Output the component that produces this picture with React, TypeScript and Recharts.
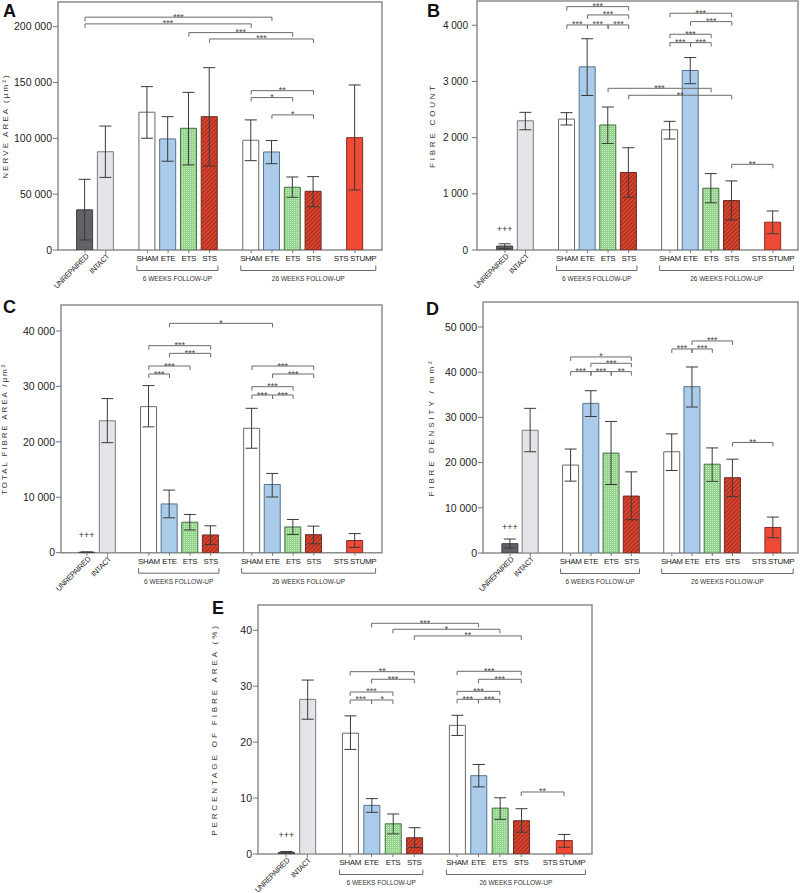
import React from 'react'
import {
  BarChart,
  Bar,
  XAxis,
  YAxis,
  ErrorBar,
  Cell,
  ReferenceLine,
  ReferenceArea,
  LabelList,
  Label,
} from 'recharts'

const FONT = "'Liberation Sans', Arial, Helvetica, sans-serif"

// x slots, gaps included so groups are spaced like the figure
const slots = ['UNREPAIRED', 'INTACT', 'gap1', 'SHAM6', 'ETE6', 'ETS6', 'STS6', 'gap2', 'SHAM26', 'ETE26', 'ETS26', 'STS26', 'gap3', 'STUMP']
const groups = ['UNREPAIRED', 'INTACT', 'SHAM6', 'ETE6', 'ETS6', 'STS6', 'SHAM26', 'ETE26', 'ETS26', 'STS26', 'STUMP']
const tickText: Record<string, string> = {
  UNREPAIRED: 'UNREPAIRED', INTACT: 'INTACT',
  SHAM6: 'SHAM', ETE6: 'ETE', ETS6: 'ETS', STS6: 'STS',
  SHAM26: 'SHAM', ETE26: 'ETE', ETS26: 'ETS', STS26: 'STS',
  STUMP: 'STS STUMP',
}
const groupKind: Record<string, string> = {
  UNREPAIRED: 'unrepaired', INTACT: 'intact',
  SHAM6: 'sham', ETE6: 'ete', ETS6: 'ets', STS6: 'sts',
  SHAM26: 'sham', ETE26: 'ete', ETS26: 'ets', STS26: 'sts',
  STUMP: 'stump',
}
const followUps: [string, string, string][] = [
  ['SHAM6', 'STS6', '6 WEEKS FOLLOW-UP'],
  ['SHAM26', 'STUMP', '26 WEEKS FOLLOW-UP'],
]

// A - nerve area
const nerveMean = [36000, 88000, 123400, 99500, 109000, 119400, 98300, 87800, 56200, 52600, 100600]
const nerveHigh = [63300, 111000, 146300, 119400, 141200, 163300, 116500, 98000, 65400, 65700, 147800]
const nerveLow = [9000, 65000, 100100, 79500, 76200, 75300, 80000, 77300, 47200, 38800, 53800]
const nerveTicks = [0, 50000, 100000, 150000, 200000]
const nerveSig: [string, string, number, string][] = [
  ['UNREPAIRED', 'ETE26', 208500, '***'],
  ['UNREPAIRED', 'SHAM26', 202500, '***'],
  ['ETS6', 'ETS26', 194700, '***'],
  ['STS6', 'STS26', 189000, '***'],
  ['SHAM26', 'STS26', 142700, '**'],
  ['SHAM26', 'ETS26', 136500, '*'],
  ['ETE26', 'STS26', 121000, '*'],
]

// B - fibre count
const countMean = [70, 2300, 2330, 3260, 2225, 1380, 2140, 3195, 1100, 880, 495]
const countHigh = [110, 2450, 2445, 3760, 2545, 1820, 2290, 3425, 1360, 1230, 695]
const countLow = [25, 2140, 2225, 2750, 1895, 940, 1975, 2960, 840, 535, 290]
const countTicks = [0, 1000, 2000, 3000, 4000]
const countSig: [string, string, number, string][] = [
  ['SHAM6', 'STS6', 4332, '***'],
  ['ETE6', 'STS6', 4184, '***'],
  ['SHAM6', 'ETE6', 4006, '***'],
  ['ETE6', 'ETS6', 4006, '***'],
  ['ETS6', 'STS6', 4006, '***'],
  ['SHAM26', 'STS26', 4214, '***'],
  ['ETE26', 'STS26', 4065, '***'],
  ['SHAM26', 'ETS26', 3840, '***'],
  ['SHAM26', 'ETE26', 3691, '***'],
  ['ETE26', 'ETS26', 3691, '***'],
  ['ETS6', 'ETS26', 2878, '***'],
  ['STS6', 'STS26', 2754, '**'],
  ['STS26', 'STUMP', 1525, '**'],
]

// C - total fibre area
const areaMean = [80, 23800, 26350, 8800, 5500, 3200, 22450, 12300, 4650, 3250, 2200]
const areaHigh = [150, 27800, 30150, 11300, 6900, 4850, 26050, 14300, 6000, 4800, 3450]
const areaLow = [20, 19850, 22700, 6300, 4100, 1500, 18850, 10050, 3300, 1600, 950]
const areaTicks = [0, 10000, 20000, 30000, 40000]
const areaSig: [string, string, number, string][] = [
  ['ETE6', 'ETE26', 41380, '*'],
  ['SHAM6', 'STS6', 37350, '***'],
  ['ETE6', 'STS6', 35970, '***'],
  ['SHAM6', 'ETS6', 33680, '***'],
  ['SHAM6', 'ETE6', 32240, '***'],
  ['SHAM26', 'STS26', 33680, '***'],
  ['ETE26', 'STS26', 32240, '***'],
  ['SHAM26', 'ETS26', 29950, '***'],
  ['SHAM26', 'ETE26', 28450, '***'],
  ['ETE26', 'ETS26', 28450, '***'],
]

// D - fibre density
const densMean = [2060, 27150, 19450, 33100, 22100, 12600, 22400, 36800, 19650, 16650, 5650]
const densHigh = [3090, 32000, 23000, 35900, 29100, 17950, 26350, 41150, 23250, 20750, 7950]
const densLow = [1100, 22400, 15900, 30200, 15150, 7350, 18250, 32300, 15850, 12500, 3400]
const densTicks = [0, 10000, 20000, 30000, 40000, 50000]
const densSig: [string, string, number, string][] = [
  ['SHAM6', 'STS6', 43370, '*'],
  ['ETE6', 'STS6', 41970, '***'],
  ['SHAM6', 'ETE6', 40130, '***'],
  ['ETE6', 'ETS6', 40130, '***'],
  ['ETS6', 'STS6', 40130, '**'],
  ['ETE26', 'STS26', 46910, '***'],
  ['SHAM26', 'ETE26', 45140, '***'],
  ['ETE26', 'ETS26', 45140, '***'],
  ['STS26', 'STUMP', 24450, '**'],
]

// E - percentage of fibre area
const pctMean = [0.3, 27.65, 21.6, 8.7, 5.4, 2.9, 23.0, 14.0, 8.2, 5.95, 2.4]
const pctHigh = [0.45, 31.1, 24.7, 9.9, 7.15, 4.7, 24.8, 16.0, 10.05, 8.1, 3.5]
const pctLow = [0.15, 24.1, 18.7, 7.45, 3.6, 1.15, 21.2, 12.0, 6.2, 3.9, 1.2]
const pctTicks = [0, 10, 20, 30, 40]
const pctSig: [string, string, number, string][] = [
  ['ETE6', 'ETE26', 41.25, '***'],
  ['ETS6', 'ETS26', 40.18, '*'],
  ['STS6', 'STS26', 38.99, '**'],
  ['SHAM6', 'STS6', 32.6, '**'],
  ['ETE6', 'STS6', 31.24, '***'],
  ['SHAM6', 'ETS6', 28.97, '***'],
  ['SHAM6', 'ETE6', 27.54, '***'],
  ['ETE6', 'ETS6', 27.54, '*'],
  ['SHAM26', 'STS26', 32.67, '***'],
  ['ETE26', 'STS26', 31.24, '***'],
  ['SHAM26', 'ETS26', 29.09, '***'],
  ['SHAM26', 'ETE26', 27.66, '***'],
  ['ETE26', 'ETS26', 27.66, '***'],
  ['STS26', 'STUMP', 11.09, '**'],
]

const kindStyle: Record<string, { fill: string; stroke: string }> = {
  unrepaired: { fill: '#626268', stroke: '#3d3d42' },
  intact: { fill: '#e4e4e8', stroke: '#7a7a80' },
  sham: { fill: '#ffffff', stroke: '#6a6a6a' },
  ete: { fill: '#aacbea', stroke: '#56728f' },
  ets: { fill: 'url(#dotsGreen)', stroke: '#456f40' },
  sts: { fill: 'url(#hatchRed)', stroke: '#6e2a20' },
  stump: { fill: '#ee4a35', stroke: '#8b2b20' },
}

const fmt = (n: number) => String(n).replace(/\B(?=(\d{3})+(?!\d))/g, ' ')

function CatTick(props: any) {
  const { x, y, payload } = props
  const key = payload.value as string
  if (key.startsWith('gap')) return null
  const rotated = key === 'UNREPAIRED' || key === 'INTACT'
  const ax = x + 4
  const ay = y + 7
  return (
    <g>
      <line x1={x} y1={y} x2={x} y2={y + 3} stroke="#777" strokeWidth={1} />
      {rotated ? (
        <text x={ax} y={ay} transform={`rotate(-45 ${ax} ${ay})`} textAnchor="end" fontSize={7.6} letterSpacing={-0.4} fill="#222" fontFamily={FONT}>
          {tickText[key]}
        </text>
      ) : (
        <text x={x} y={y + 11} textAnchor="middle" fontSize={8} letterSpacing={-0.35} fill="#222" fontFamily={FONT}>
          {tickText[key]}
        </text>
      )}
    </g>
  )
}

interface Layout {
  left: number
  top: number
  width: number
  height: number
  margin: { top: number; right: number; bottom: number; left: number }
  yAxisWidth: number
  padL: number
  padR: number
  labelX: number
  labelSpacing: number
  tickFont: number
  tickMargin: number
}

interface PanelProps {
  yLabel: string
  means: number[]
  highs: number[]
  lows: number[]
  ticks: number[]
  sig: [string, string, number, string][]
  yMax: number
  plus: boolean
  layout: Layout
}

function Panel({ yLabel, means, highs, lows, ticks, sig, yMax, plus, layout: L }: PanelProps) {
  const plotW = L.width - L.margin.left - L.margin.right - L.yAxisWidth
  const plotH = L.height - L.margin.top - L.margin.bottom - 30
  const bw = (plotW - L.padL - L.padR) / slots.length
  const nMin = -0.5 - L.padL / bw
  const nMax = slots.length - 0.5 + L.padR / bw
  const px = yMax / plotH
  const pos = (k: string) => slots.indexOf(k)

  const data = slots.map((key, idx) => {
    const i = groups.indexOf(key)
    if (i < 0) return { key, idx, v: null }
    return {
      key,
      idx,
      v: means[i],
      err: [means[i] - lows[i], highs[i] - means[i]],
      mark: plus && key === 'UNREPAIRED' ? '+++' : undefined,
    }
  })

  const lineProps = { xAxisId: 'n', stroke: '#6a6a6a', strokeWidth: 1, ifOverflow: 'visible' as const }

  const sigLines = sig.flatMap(([a, b, y, s], i) => {
    const x1 = pos(a)
    const x2 = pos(b)
    const d = 4 * px
    return [
      <ReferenceLine key={`h${i}`} {...lineProps} segment={[{ x: x1, y }, { x: x2, y }]}
        label={{ value: s, position: 'top', offset: -2.5, fontSize: 9, fill: '#444', fontFamily: FONT }} />,
      <ReferenceLine key={`l${i}`} {...lineProps} segment={[{ x: x1, y }, { x: x1, y: y - d }]} />,
      <ReferenceLine key={`r${i}`} {...lineProps} segment={[{ x: x2, y }, { x: x2, y: y - d }]} />,
    ]
  })

  const groupLines = followUps.flatMap(([a, b, text], i) => {
    const xl = pos(a) - 0.5
    const xr = pos(b) + (b === 'STUMP' ? 1.0 : 0.4)
    const y0 = -20.5 * px
    const y1 = -15.5 * px
    return [
      <ReferenceLine key={`g${i}`} {...lineProps} segment={[{ x: xl, y: y0 }, { x: xr, y: y0 }]}
        label={{ value: text, position: 'bottom', offset: 6, fontSize: 6.5, fill: '#333', fontFamily: FONT }} />,
      <ReferenceLine key={`gl${i}`} {...lineProps} segment={[{ x: xl, y: y0 }, { x: xl, y: y1 }]} />,
      <ReferenceLine key={`gr${i}`} {...lineProps} segment={[{ x: xr, y: y0 }, { x: xr, y: y1 }]} />,
    ]
  })

  const yLabelContent = (props: any) => {
    const vb = props.viewBox || {}
    const cy = (vb.y ?? L.margin.top) + (vb.height ?? plotH) / 2
    const cx = L.labelX
    return (
      <text x={cx} y={cy} transform={`rotate(-90 ${cx} ${cy})`} textAnchor="middle" dominantBaseline="central"
        fontSize={8} letterSpacing={L.labelSpacing} fill="#333" fontFamily={FONT}>
        {yLabel}
      </text>
    )
  }

  return (
    <div style={{ position: 'absolute', left: L.left, top: L.top }}>
      <BarChart width={L.width} height={L.height} data={data} margin={L.margin} barSize={16}>
        <XAxis dataKey="key" type="category" interval={0} tick={(p: any) => <CatTick {...p} />}
          tickLine={false} axisLine={false} tickSize={0} tickMargin={0} height={30}
          padding={{ left: L.padL, right: L.padR }} />
        <XAxis xAxisId="n" dataKey="idx" type="number" domain={[nMin, nMax]} allowDataOverflow hide />
        <YAxis width={L.yAxisWidth} domain={[0, yMax]} allowDataOverflow ticks={ticks} interval={0}
          tickFormatter={fmt} axisLine={false} tickSize={5} tickMargin={L.tickMargin}
          tickLine={{ stroke: '#777' }}
          tick={{ fontSize: L.tickFont, fill: '#222', fontFamily: FONT }}
          label={<Label content={yLabelContent} />} />
        <Bar dataKey="v" isAnimationActive={false}>
          {data.map((d) => {
            const st = kindStyle[groupKind[d.key]] || { fill: 'none', stroke: 'none' }
            return <Cell key={d.key} fill={st.fill} stroke={st.stroke} strokeWidth={1} />
          })}
          <ErrorBar dataKey="err" direction="y" width={6} stroke="#3a3a3a" strokeWidth={1} />
          <LabelList dataKey="mark" position="top" offset={14} fontSize={9} fill="#333" fontFamily={FONT} />
        </Bar>
        <ReferenceArea xAxisId="n" x1={nMin} x2={nMax} y1={0} y2={yMax} fill="none"
          stroke="#8c8c8c" strokeWidth={1.5} ifOverflow="visible" />
        {sigLines}
        {groupLines}
      </BarChart>
    </div>
  )
}

const letterStyle = (left: number, top: number): React.CSSProperties => ({
  position: 'absolute', left, top, fontSize: 18, lineHeight: '18px', fontWeight: 700, fontFamily: FONT, color: '#111',
})

export default function App() {
  return (
    <div style={{ position: 'absolute', left: 0, top: 0, width: 800, height: 893, background: '#fff', overflow: 'hidden' }}>
      <svg width={0} height={0} style={{ position: 'absolute' }}>
        <defs>
          <pattern id="dotsGreen" width="2" height="2" patternUnits="userSpaceOnUse">
            <rect width="2" height="2" fill="#93d38c" />
            <rect width="1" height="1" fill="#c6ecc1" />
          </pattern>
          <pattern id="hatchRed" width="3" height="3" patternUnits="userSpaceOnUse" patternTransform="rotate(45)">
            <rect width="3" height="3" fill="#dd4631" />
            <line x1="0.6" y1="0" x2="0.6" y2="3" stroke="#9e2a1c" strokeWidth="1.1" />
          </pattern>
        </defs>
      </svg>

      <Panel yLabel="NERVE AREA (µm²)" means={nerveMean} highs={nerveHigh} lows={nerveLow} ticks={nerveTicks}
        sig={nerveSig} yMax={222100} plus={false}
        layout={{ left: 0, top: 0, width: 400, height: 300, margin: { top: 2, right: 18, bottom: 20, left: 0 },
          yAxisWidth: 58, padL: 16.6, padR: 16.6, labelX: 5, labelSpacing: 2.1, tickFont: 10.5, tickMargin: 1 }} />

      <Panel yLabel="FIBRE COUNT" means={countMean} highs={countHigh} lows={countLow} ticks={countTicks}
        sig={countSig} yMax={4432} plus
        layout={{ left: 400, top: 0, width: 400, height: 300, margin: { top: 1, right: 2, bottom: 20, left: 0 },
          yAxisWidth: 77, padL: 17.7, padR: 14.7, labelX: 32, labelSpacing: 2.8, tickFont: 10, tickMargin: 4 }} />

      <Panel yLabel="TOTAL FIBRE AREA /µm²" means={areaMean} highs={areaHigh} lows={areaLow} ticks={areaTicks}
        sig={areaSig} yMax={44690} plus
        layout={{ left: 0, top: 290, width: 400, height: 310, margin: { top: 15, right: 18, bottom: 17.3, left: 0 },
          yAxisWidth: 61, padL: 15.7, padR: 16.7, labelX: 5, labelSpacing: 1.9, tickFont: 10.5, tickMargin: 1 }} />

      <Panel yLabel="FIBRE DENSITY / mm²" means={densMean} highs={densHigh} lows={densLow} ticks={densTicks}
        sig={densSig} yMax={55530} plus
        layout={{ left: 400, top: 290, width: 400, height: 310, margin: { top: 12, right: 2, bottom: 17, left: 0 },
          yAxisWidth: 83, padL: 16.9, padR: 14.9, labelX: 31, labelSpacing: 2.9, tickFont: 10.5, tickMargin: 1 }} />

      <Panel yLabel="PERCENTAGE OF FIBRE AREA (%)" means={pctMean} highs={pctHigh} lows={pctLow} ticks={pctTicks}
        sig={pctSig} yMax={44.52} plus
        layout={{ left: 180, top: 575, width: 440, height: 318, margin: { top: 30, right: 28, bottom: 9, left: 0 },
          yAxisWidth: 78, padL: 17.3, padR: 17.3, labelX: 34, labelSpacing: 2.9, tickFont: 10.5, tickMargin: 1 }} />

      <div style={letterStyle(3, 1.5)}>A</div>
      <div style={letterStyle(427, 1.5)}>B</div>
      <div style={letterStyle(3, 298)}>C</div>
      <div style={letterStyle(426, 300)}>D</div>
      <div style={letterStyle(212, 599)}>E</div>
    </div>
  )
}
